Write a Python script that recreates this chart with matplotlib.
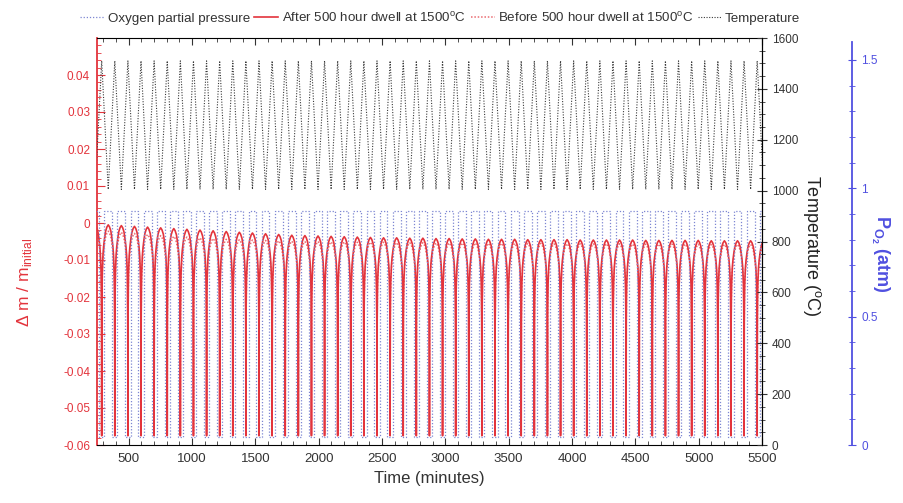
import numpy as np
import matplotlib.pyplot as plt
from matplotlib.ticker import MultipleLocator, FormatStrFormatter

plt.rcParams['font.family'] = ['Liberation Sans', 'DejaVu Sans']
plt.rcParams['axes.unicode_minus'] = False

# timing of the thermal cycles (minutes)
first_peak = 287.0
cycle_len = 103.5
n_cycles = 52          # cycles from k = -1 .. 50

temp_high = 1510       # deg C
temp_low = 1005

po2_high = 0.91        # atm
po2_low = 0.03
po2_duty = 0.6         # fraction of a cycle at high pO2

# least negative mass change reached in each cycle (k = -1 .. 50)
after_peaks = [-0.0004,
               -0.0005, -0.0007, -0.0009, -0.0011, -0.0013, -0.0015, -0.0017, -0.0019, -0.0021, -0.0023,
               -0.0025, -0.0027, -0.0029, -0.0031, -0.0033, -0.0034, -0.0035, -0.0036, -0.0037, -0.0038,
               -0.0039, -0.0040, -0.0040, -0.0041, -0.0041, -0.0042, -0.0042, -0.0043, -0.0043, -0.0044,
               -0.0044, -0.0044, -0.0045, -0.0045, -0.0045, -0.0045, -0.0046, -0.0046, -0.0046, -0.0046,
               -0.0046, -0.0047, -0.0047, -0.0047, -0.0047, -0.0047, -0.0048, -0.0048, -0.0048, -0.0048,
               -0.0048]
before_peaks = [-0.0015,
                -0.0022, -0.0025, -0.0028, -0.0031, -0.0034, -0.0036, -0.0038, -0.0040, -0.0042, -0.0044,
                -0.0045, -0.0046, -0.0047, -0.0048, -0.0049, -0.0050, -0.0050, -0.0051, -0.0051, -0.0052,
                -0.0052, -0.0052, -0.0053, -0.0053, -0.0053, -0.0054, -0.0054, -0.0054, -0.0054, -0.0055,
                -0.0055, -0.0055, -0.0055, -0.0055, -0.0056, -0.0056, -0.0056, -0.0056, -0.0056, -0.0056,
                -0.0057, -0.0057, -0.0057, -0.0057, -0.0057, -0.0057, -0.0058, -0.0058, -0.0058, -0.0058,
                -0.0058]
after_trough = -0.0575
before_trough = -0.0570

# shape of one rising half of a mass arch: fraction of half cycle -> normalised height
arch_s = [0, 0.01, 0.03, 0.06, 0.10, 0.20, 0.30, 0.45, 0.60, 0.80, 1.0]
arch_h = [0, 0.35, 0.58, 0.70, 0.78, 0.86, 0.90, 0.94, 0.97, 0.99, 1.0]


def mass_curve(peaks, trough):
    half = cycle_len / 2
    s = np.array(arch_s)
    h = np.array(arch_h)
    ts, vs = [], []
    for i, pk in enumerate(peaks):
        t0 = first_peak + (i - 1) * cycle_len   # trough time (temperature peak)
        ts += list(t0 + s * half) + list(t0 + half + (1 - s[::-1]) * half)
        vs += list(trough + h * (pk - trough)) + list(trough + h[::-1] * (pk - trough))
    return np.array(ts), np.array(vs)


def temp_curve():
    ts, vs = [], []
    for i in range(n_cycles + 1):
        t0 = first_peak + (i - 1) * cycle_len
        ts += [t0, t0 + cycle_len / 2]
        vs += [temp_high, temp_low]
    return ts, vs


def po2_curve():
    ts, vs = [], []
    for i in range(n_cycles + 1):
        t0 = first_peak + (i - 1) * cycle_len
        up = t0 + (1 - po2_duty) / 2 * cycle_len
        down = t0 + (1 + po2_duty) / 2 * cycle_len
        ts += [up, up, down, down]
        vs += [po2_low, po2_high, po2_high, po2_low]
    return ts, vs


red = '#e3343c'
blue_axis = '#5050e0'

fig = plt.figure(figsize=(9.04, 5.03), dpi=100)
ax = fig.add_axes([97/904, 58/503, 665/904, 407/503])
ax2 = ax.twinx()
ax3 = ax.twinx()
ax3.spines['right'].set_position(('axes', 1 + 90/665))

t_po2, v_po2 = po2_curve()
h_o2, = ax3.plot(t_po2, v_po2, color='#7d86d2', lw=0.9, ls=(0, (1, 1.5)),
                 label='Oxygen partial pressure')

t_a, v_a = mass_curve(after_peaks, after_trough)
t_b, v_b = mass_curve(before_peaks, before_trough)
h_b, = ax.plot(t_b, v_b, color='#ea6a70', lw=1.1, ls=(0, (1, 1.2)),
               label='Before 500 hour dwell at 1500$^{\\mathregular{o}}$C')
h_a, = ax.plot(t_a, v_a, color=red, lw=1.2,
               label='After 500 hour dwell at 1500$^{\\mathregular{o}}$C')

t_T, v_T = temp_curve()
h_T, = ax2.plot(t_T, v_T, color='#3a3a3a', lw=0.8, ls=(0, (1, 1.4)),
                label='Temperature')

ax.set_xlim(250, 5500)
ax.set_ylim(-0.06, 0.05)
ax2.set_ylim(0, 1600)
ax3.set_ylim(0, 1.585)

# main axis
ax.xaxis.set_minor_locator(MultipleLocator(100))
ax.set_xticks([500, 1000, 1500, 2000, 2500, 3000, 3500, 4000, 4500, 5000, 5500])
ax.yaxis.set_minor_locator(MultipleLocator(0.002))
ax.set_yticks([-0.06, -0.05, -0.04, -0.03, -0.02, -0.01, 0, 0.01, 0.02, 0.03, 0.04])
ax.yaxis.set_major_formatter(FormatStrFormatter('%g'))
ax.tick_params(axis='x', which='both', direction='in', top=True, labelsize=9.5,
               colors='#333333', pad=6)
ax.tick_params(axis='x', which='major', length=5)
ax.tick_params(axis='x', which='minor', length=3)
ax.tick_params(axis='y', which='both', direction='in', colors=red, labelsize=8.5, pad=5)
ax.tick_params(axis='y', which='major', length=6)
ax.tick_params(axis='y', which='minor', length=3)
ax.spines['left'].set_color(red)
ax.spines['left'].set_linewidth(1.3)
ax.set_xlabel('Time (minutes)', fontsize=12, color='#333333', labelpad=4)
ax.set_ylabel('Δ m / m$_{\\mathregular{initial}}$', fontsize=12.5, color=red)
ax.yaxis.set_label_coords(-0.095, 0.40)

# temperature axis
ax2.yaxis.set_major_locator(MultipleLocator(200))
ax2.yaxis.set_minor_locator(MultipleLocator(50))
ax2.tick_params(axis='y', which='both', direction='inout', labelsize=8.5, colors='#333333')
ax2.tick_params(axis='y', which='major', length=7)
ax2.tick_params(axis='y', which='minor', length=4)
ax2.set_ylabel('Temperature ($^{\\mathregular{o}}$C)', fontsize=13, rotation=-90,
               color='#222222', va='center')
ax2.yaxis.set_label_coords(1.075, 0.49)
for sp in ['left', 'top', 'bottom']:
    ax2.spines[sp].set_visible(False)
    ax3.spines[sp].set_visible(False)

# oxygen axis
ax3.set_yticks([0, 0.5, 1, 1.5])
ax3.yaxis.set_major_formatter(FormatStrFormatter('%g'))
ax3.yaxis.set_minor_locator(MultipleLocator(0.1))
ax3.tick_params(axis='y', which='both', direction='inout', labelsize=8.5, colors=blue_axis)
ax3.tick_params(axis='y', which='major', length=6)
ax3.tick_params(axis='y', which='minor', length=4)
ax3.spines['right'].set_color(blue_axis)
ax3.spines['right'].set_linewidth(1.3)
ax3.spines['right'].set_bounds(0, 1.57)
ax3.set_ylabel('P$_{\\mathregular{O}_{\\mathregular{2}}}$ (atm)', fontsize=13, rotation=-90,
               color=blue_axis, fontweight='bold', va='center')
ax3.yaxis.set_label_coords(1.177, 0.47)

fig.legend([h_o2, h_a, h_b, h_T], [h.get_label() for h in [h_o2, h_a, h_b, h_T]],
           loc='center', bbox_to_anchor=(0.487, 0.965), ncol=4, frameon=False,
           handlelength=1.8, handletextpad=0.25, columnspacing=0.35,
           prop={'family': ['Liberation Sans Narrow', 'Liberation Sans'], 'size': 9.6},
           labelcolor='#333333')

fig.savefig('out.png', dpi=100)
